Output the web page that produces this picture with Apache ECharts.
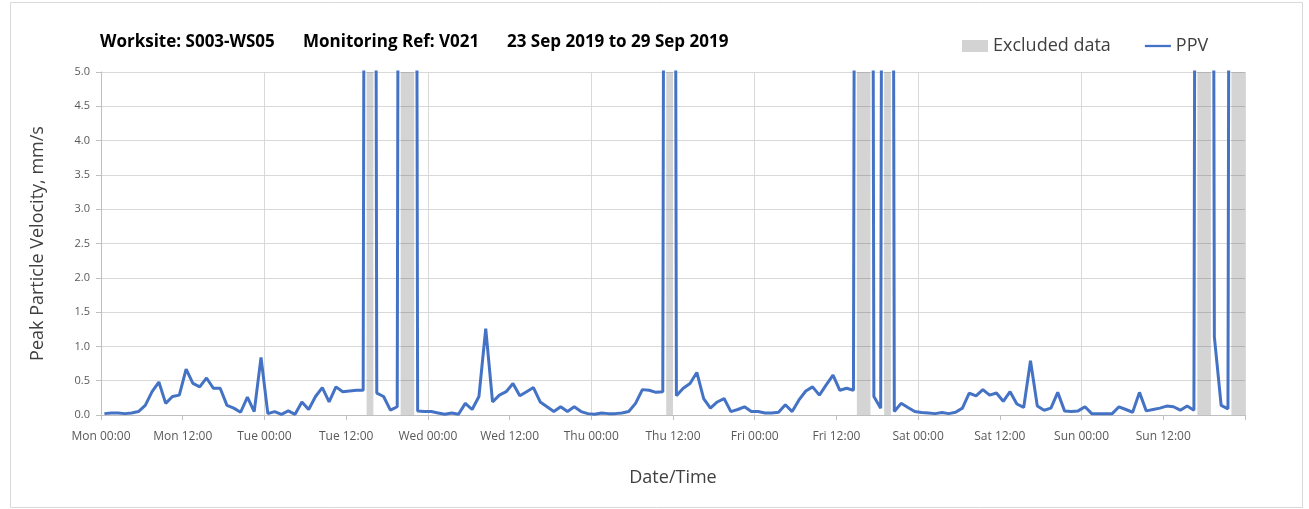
<!DOCTYPE html>
<html><head><meta charset="utf-8">
<script src="https://cdn.jsdelivr.net/npm/echarts@6/dist/echarts.min.js"></script>
<style>html,body{margin:0;padding:0;background:#fff}#c{width:1309px;height:509px}</style>
</head><body><div id="c"></div>
<script>
// ---- data ----
const titleParts = ['Worksite: S003-WS05', 'Monitoring Ref: V021', '23 Sep 2019 to 29 Sep 2019'];
const xTickLabels = ['Mon 00:00','Mon 12:00','Tue 00:00','Tue 12:00','Wed 00:00','Wed 12:00','Thu 00:00',
  'Thu 12:00','Fri 00:00','Fri 12:00','Sat 00:00','Sat 12:00','Sun 00:00','Sun 12:00',''];
const yTickLabels = ['0.0','0.5','1.0','1.5','2.0','2.5','3.0','3.5','4.0','4.5','5.0'];
// hourly PPV samples (mm/s), Mon 00:30 .. Sun 23:30; 50 = off-scale (excluded) readings
const ppv = [
  0.02,0.03,0.03,0.02,0.03,0.05,0.14,0.34,0.48,0.17,0.27,0.29,0.67,0.46,0.41,0.54,0.39,0.39,0.14,0.10,0.04,0.26,0.05,0.84,
  0.02,0.05,0.01,0.06,0.01,0.19,0.08,0.27,0.40,0.19,0.41,0.34,0.35,0.36,0.36,50,0.32,0.27,0.07,0.12,50,50,0.06,0.05,
  0.05,0.03,0.01,0.03,0.01,0.17,0.08,0.27,1.26,0.19,0.29,0.34,0.46,0.28,0.34,0.40,0.19,0.12,0.05,0.12,0.05,0.12,0.05,0.02,
  0.01,0.03,0.02,0.02,0.03,0.05,0.17,0.37,0.36,0.33,0.34,50,0.28,0.39,0.46,0.62,0.24,0.10,0.19,0.24,0.05,0.08,0.12,0.05,
  0.05,0.03,0.03,0.04,0.15,0.05,0.22,0.35,0.41,0.29,0.44,0.58,0.36,0.39,0.36,50,50,0.27,0.10,50,0.05,0.17,0.11,0.05,
  0.035,0.03,0.02,0.035,0.02,0.04,0.10,0.32,0.28,0.37,0.29,0.32,0.20,0.34,0.16,0.11,0.79,0.13,0.07,0.10,0.33,0.06,0.05,0.06,
  0.12,0.02,0.02,0.02,0.02,0.12,0.08,0.04,0.33,0.06,0.08,0.10,0.13,0.12,0.07,0.13,0.07,50,50,1.14,0.14,0.09,50,50
];
// excluded periods, hours from Mon 00:00
const excludedStart = [39, 44, 83, 111, 115, 161, 166];
const excludedEnd   = [40, 46, 84, 113, 116, 163, 168];

// ---- chart ----
const FONT = 'Open Sans';
const ppvData = ppv.map((v, i) => [i + 0.5, v]);
const excludedData = excludedStart.map((s, i) => [s, excludedEnd[i]]);
const titleLeft = [100, 303, 507];

const chart = echarts.init(document.getElementById('c'));
chart.setOption({
  animation: false,
  textStyle: { fontFamily: FONT },
  title: titleParts.map((t, i) => ({
    text: t, left: titleLeft[i], top: 34, padding: 0,
    textStyle: { fontFamily: FONT, fontSize: 17, fontWeight: 'bold', color: '#000' }
  })),
  legend: {
    left: 962, top: 37, padding: 0, itemGap: 34, itemWidth: 26, itemHeight: 12,
    textStyle: { fontFamily: FONT, fontSize: 18, color: '#404040' },
    data: [
      { name: 'Excluded data', icon: 'rect', itemStyle: { color: '#d3d3d3' } },
      { name: 'PPV', icon: 'path://M0,0H40V3.5H0Z', itemStyle: { color: '#4472C4' } }
    ]
  },
  graphic: [{
    type: 'rect', left: 8, top: 0, silent: true,
    shape: { width: 1292, height: 505 },
    style: { fill: 'none', stroke: '#d9d9d9', lineWidth: 1 }
  }],
  grid: { left: 101, right: 64, top: 72, bottom: 94 },
  xAxis: [{
    type: 'value', min: 0, max: 168, interval: 12,
    name: 'Date/Time', nameLocation: 'middle', nameGap: 54,
    nameTextStyle: { fontFamily: FONT, fontSize: 18, color: '#404040' },
    axisLine: { show: true, lineStyle: { color: '#bfbfbf', width: 1 } },
    axisTick: { show: true, length: 5, lineStyle: { color: '#bfbfbf' } },
    axisLabel: { formatter: v => xTickLabels[Math.round(v / 12)], fontSize: 12, color: '#595959', margin: 16, showMaxLabel: true },
    splitLine: { show: false }
  }, {
    type: 'value', min: 0, max: 168, interval: 24, position: 'bottom',
    axisLine: { show: false }, axisTick: { show: false }, axisLabel: { show: false },
    splitLine: { show: true, lineStyle: { color: '#d9d9d9', width: 1 } }
  }],
  yAxis: {
    type: 'value', min: 0, max: 5, interval: 0.5,
    name: 'Peak Particle Velocity, mm/s', nameLocation: 'middle', nameGap: 54,
    nameTextStyle: { fontFamily: FONT, fontSize: 18, color: '#404040' },
    axisLine: { show: true, lineStyle: { color: '#bfbfbf', width: 1 } },
    axisTick: { show: true, length: 5, lineStyle: { color: '#bfbfbf' } },
    axisLabel: { formatter: v => yTickLabels[Math.round(v * 2)], fontSize: 11, color: '#595959', margin: 11 },
    splitLine: { show: true, lineStyle: { color: '#d9d9d9', width: 1 } }
  },
  series: [{
    name: 'Excluded data', type: 'custom', xAxisIndex: 0, z: 2,
    encode: { x: [0, 1] },
    data: excludedData,
    renderItem: (params, api) => {
      const p0 = api.coord([api.value(0), 5]);
      const p1 = api.coord([api.value(1), 0]);
      return { type: 'rect', shape: { x: p0[0], y: p0[1], width: p1[0] - p0[0], height: p1[1] - p0[1] },
        style: { fill: 'rgba(0,0,0,0.17)' } };
    }
  }, {
    name: 'PPV', type: 'line', xAxisIndex: 0, z: 3, clip: true,
    data: ppvData, showSymbol: false, symbol: 'none',
    lineStyle: { color: '#4472C4', width: 3 },
    itemStyle: { color: '#4472C4' }
  }]
});
</script></body></html>
